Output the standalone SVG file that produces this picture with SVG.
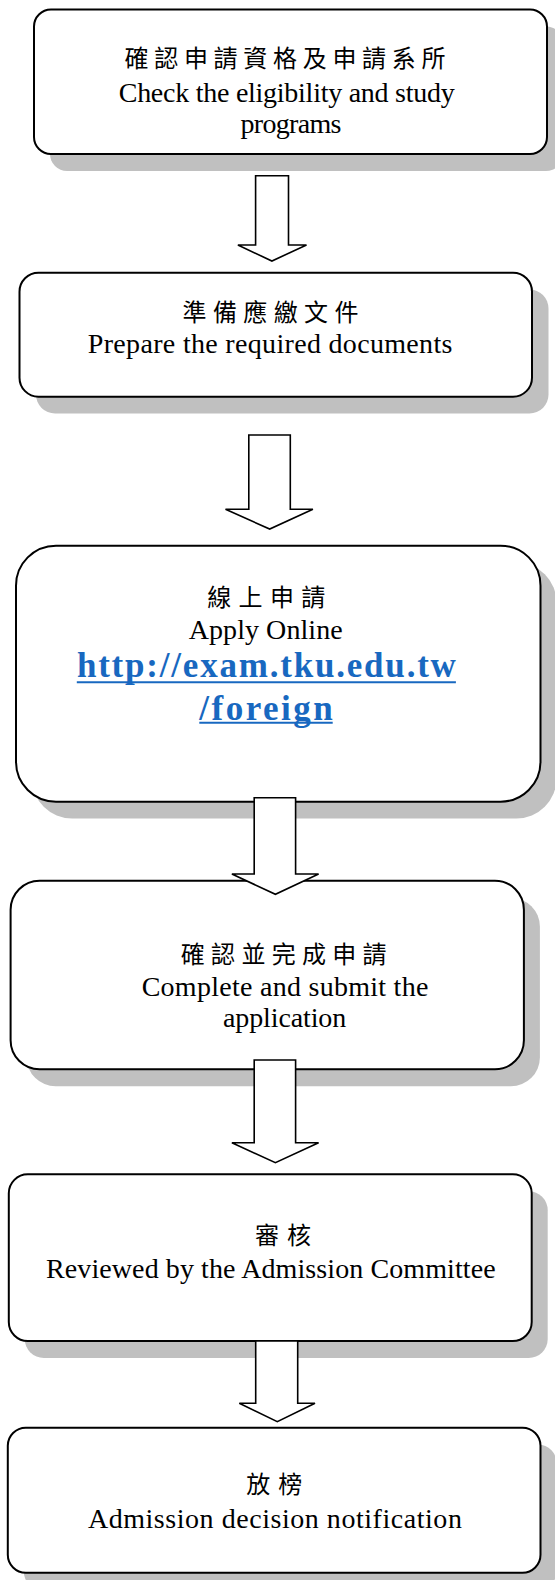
<svg xmlns="http://www.w3.org/2000/svg" width="555" height="1580" viewBox="0 0 555 1580">
<style>
.shadow{fill:#c0c0c0;stroke:none}
.box{fill:#ffffff;stroke:#000000;stroke-width:2}
.zh{font-family:"Noto Sans CJK TC","Noto Sans CJK SC",sans-serif;font-size:24px;fill:#000000}
.en{font-family:"Liberation Serif","Times New Roman",serif;font-size:28px;fill:#000000;text-anchor:middle}
.url{font-family:"Liberation Serif","Times New Roman",serif;font-size:35px;font-weight:bold;fill:#1868c0;text-anchor:middle}
.ul{stroke:#1868c0;stroke-width:2}
.arrow{fill:#ffffff;stroke:#000000;stroke-width:1.6;stroke-linejoin:miter}
</style>
<rect width="555" height="1580" fill="#ffffff"/>
<g id="node1">
<rect class="shadow" x="50" y="26.5" width="513" height="144.5" rx="17"/>
<rect class="box" x="34" y="9.5" width="513" height="144.5" rx="17"/>
<text class="zh" x="124.5" y="67" letter-spacing="5.7">確認申請資格及申請系所</text>
<text class="en" x="286.7" y="101.7" textLength="336">Check the eligibility and study</text>
<text class="en" x="291" y="133" textLength="101">programs</text>
</g>
<g id="node2">
<rect class="shadow" x="36" y="289.5" width="512.5" height="124" rx="19"/>
<rect class="box" x="19.5" y="272.7" width="512.5" height="124" rx="19"/>
<text class="zh" x="182.5" y="320.5" letter-spacing="6.4">準備應繳文件</text>
<text class="en" x="270.1" y="353.3" textLength="364.6">Prepare the required documents</text>
</g>
<g id="node3">
<rect class="shadow" x="32" y="562.5" width="524.5" height="256" rx="40"/>
<rect class="box" x="16" y="545.7" width="524.5" height="256" rx="40"/>
<text class="zh" x="207.3" y="605.5" letter-spacing="7.3">線上申請</text>
<text class="en" x="265.7" y="639.3" textLength="154">Apply Online</text>
<text class="url" x="266.4" y="677.3" textLength="379">http://exam.tku.edu.tw</text>
<line class="ul" x1="76.8" y1="682.3" x2="455.9" y2="682.3"/>
<text class="url" x="266" y="720" textLength="133.4">/foreign</text>
<line class="ul" x1="199.3" y1="722.7" x2="332.7" y2="722.7"/>
</g>
<g id="node4">
<rect class="shadow" x="26.6" y="897.7" width="513.3" height="188.6" rx="29"/>
<rect class="box" x="10.6" y="880.7" width="513.3" height="188.6" rx="29"/>
<text class="zh" x="180.8" y="962.5" letter-spacing="6.3">確認並完成申請</text>
<text class="en" x="285" y="996" textLength="286.7">Complete and submit the</text>
<text class="en" x="284.6" y="1026.7" textLength="123.2">application</text>
</g>
<g id="node5">
<rect class="shadow" x="24.8" y="1191.3" width="522.9" height="166.7" rx="19"/>
<rect class="box" x="8.8" y="1174.3" width="522.9" height="166.7" rx="19"/>
<text class="zh" x="255.1" y="1244" letter-spacing="8">審核</text>
<text class="en" x="270.8" y="1278.3" textLength="449.6">Reviewed by the Admission Committee</text>
</g>
<g id="node6">
<rect class="shadow" x="23.8" y="1444.7" width="532.7" height="145" rx="18"/>
<rect class="box" x="7.8" y="1427.7" width="532.7" height="145" rx="18"/>
<text class="zh" x="246.3" y="1492.5" letter-spacing="8">放榜</text>
<text class="en" x="274.9" y="1527.7" textLength="374">Admission decision notification</text>
</g>
<g id="connectors">
<polygon class="arrow" points="255.6,175.7 288.5,175.7 288.5,245 306.5,245 271.9,261 237.9,245 255.6,245"/>
<polygon class="arrow" points="248.8,435 290.3,435 290.3,509.3 312.9,509.3 269.7,529 225.5,509.3 248.8,509.3"/>
<polygon class="arrow" points="254.2,797.7 295.6,797.7 295.6,874 318.6,874 275.4,894.3 231.9,874 254.2,874"/>
<polygon class="arrow" points="254.2,1060 295.6,1060 295.6,1142.7 318.6,1142.7 275.4,1162.7 231.9,1142.7 254.2,1142.7"/>
<polygon class="arrow" points="255.7,1341 297.7,1341 297.7,1403.3 315,1403.3 277.3,1421.7 239.3,1403.3 255.7,1403.3"/>
</g>
</svg>
